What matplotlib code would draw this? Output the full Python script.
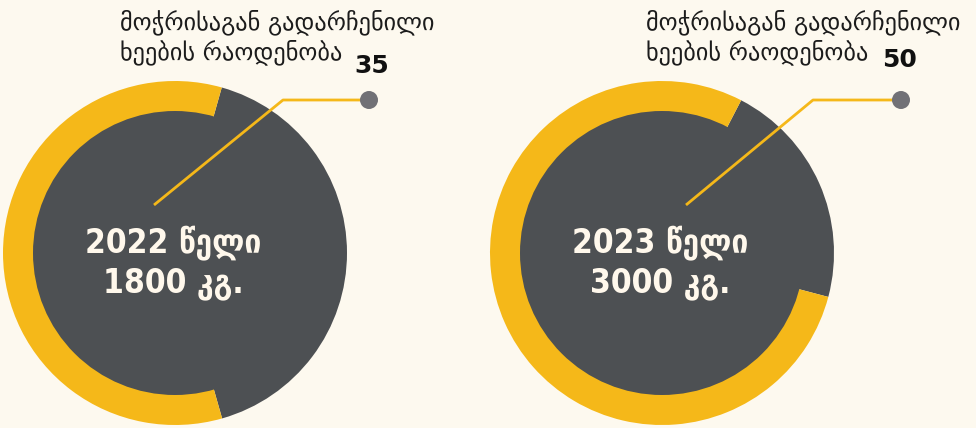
import matplotlib
matplotlib.use("Agg")
import matplotlib.pyplot as plt
from matplotlib.patches import Circle

# ---- data ----
years = ["2022", "2023"]
paper_kg = [1800, 3000]
trees_saved = [35, 50]
dark_share = [41.2, 21.5]      # grey wedge, percent of the ring
yellow_share = [58.8, 78.5]    # yellow wedge, percent of the ring
title_lines = ["მოჭრისაგან გადარჩენილი", "ხეების რაოდენობა"]
year_word = "წელი"
unit_word = "კგ."

# ---- style / layout ----
BG = "#FDF9EF"
YELLOW = "#F5B819"
DARK = "#4D5053"
DOT = "#717176"
TXT = "#1C1C1C"
LIGHT = "#FFF8EC"

W, H = 976, 428
fig = plt.figure(figsize=(W / 100, H / 100), dpi=100, facecolor=BG)
ax = fig.add_axes([0, 0, 1, 1])
ax.set_facecolor(BG)

centers = [(175, 175), (662, 175)]
start_angles = [-74.1, -14.8]
R_OUT, R_IN = 172, 142
title_x = [120, 646]
num_pos = [(372, 362), (899, 368)]
leader = [((154, 223), (283, 328), (369, 328)),
          ((686, 223), (813, 328), (901, 328))]

for i in range(len(years)):
    cx, cy = centers[i]
    ax.pie([dark_share[i], yellow_share[i]], colors=[DARK, YELLOW],
           startangle=start_angles[i], counterclock=True,
           center=(cx, cy), radius=R_OUT, frame=True,
           wedgeprops=dict(linewidth=0))
    ax.add_patch(Circle((cx, cy), R_IN, facecolor=DARK, edgecolor="none", zorder=3))

    ax.text(cx - 2, cy + 10, f"{years[i]} {year_word}", ha="center", va="center",
            color=LIGHT, fontsize=24, fontweight="bold", family="DejaVu Sans",
            fontstretch="condensed", zorder=5)
    ax.text(cx - 2, cy - 30, f"{paper_kg[i]} {unit_word}", ha="center", va="center",
            color=LIGHT, fontsize=24, fontweight="bold", family="DejaVu Sans",
            fontstretch="condensed", zorder=5)

    (x0, y0), (x1, y1), (x2, y2) = leader[i]
    ax.plot([x0, x1, x2], [y0, y1, y2], color=YELLOW, lw=2, zorder=6,
            solid_capstyle="butt")
    ax.add_patch(Circle((x2, y2), 9, facecolor=DOT, edgecolor="none", zorder=7))

    ax.text(title_x[i], 406, title_lines[0], ha="left", va="center",
            color=TXT, fontsize=17.5, family="DejaVu Sans", zorder=5)
    ax.text(title_x[i], 376, title_lines[1], ha="left", va="center",
            color=TXT, fontsize=17.5, family="DejaVu Sans", zorder=5)
    ax.text(num_pos[i][0], num_pos[i][1], str(trees_saved[i]), ha="center",
            va="center", color="#111111", fontsize=18, fontweight="bold",
            family="DejaVu Sans", zorder=5)

ax.set_xlim(0, W)
ax.set_ylim(0, H)
ax.set_aspect("equal")
ax.axis("off")

fig.savefig("out.png", dpi=100, facecolor=BG)
